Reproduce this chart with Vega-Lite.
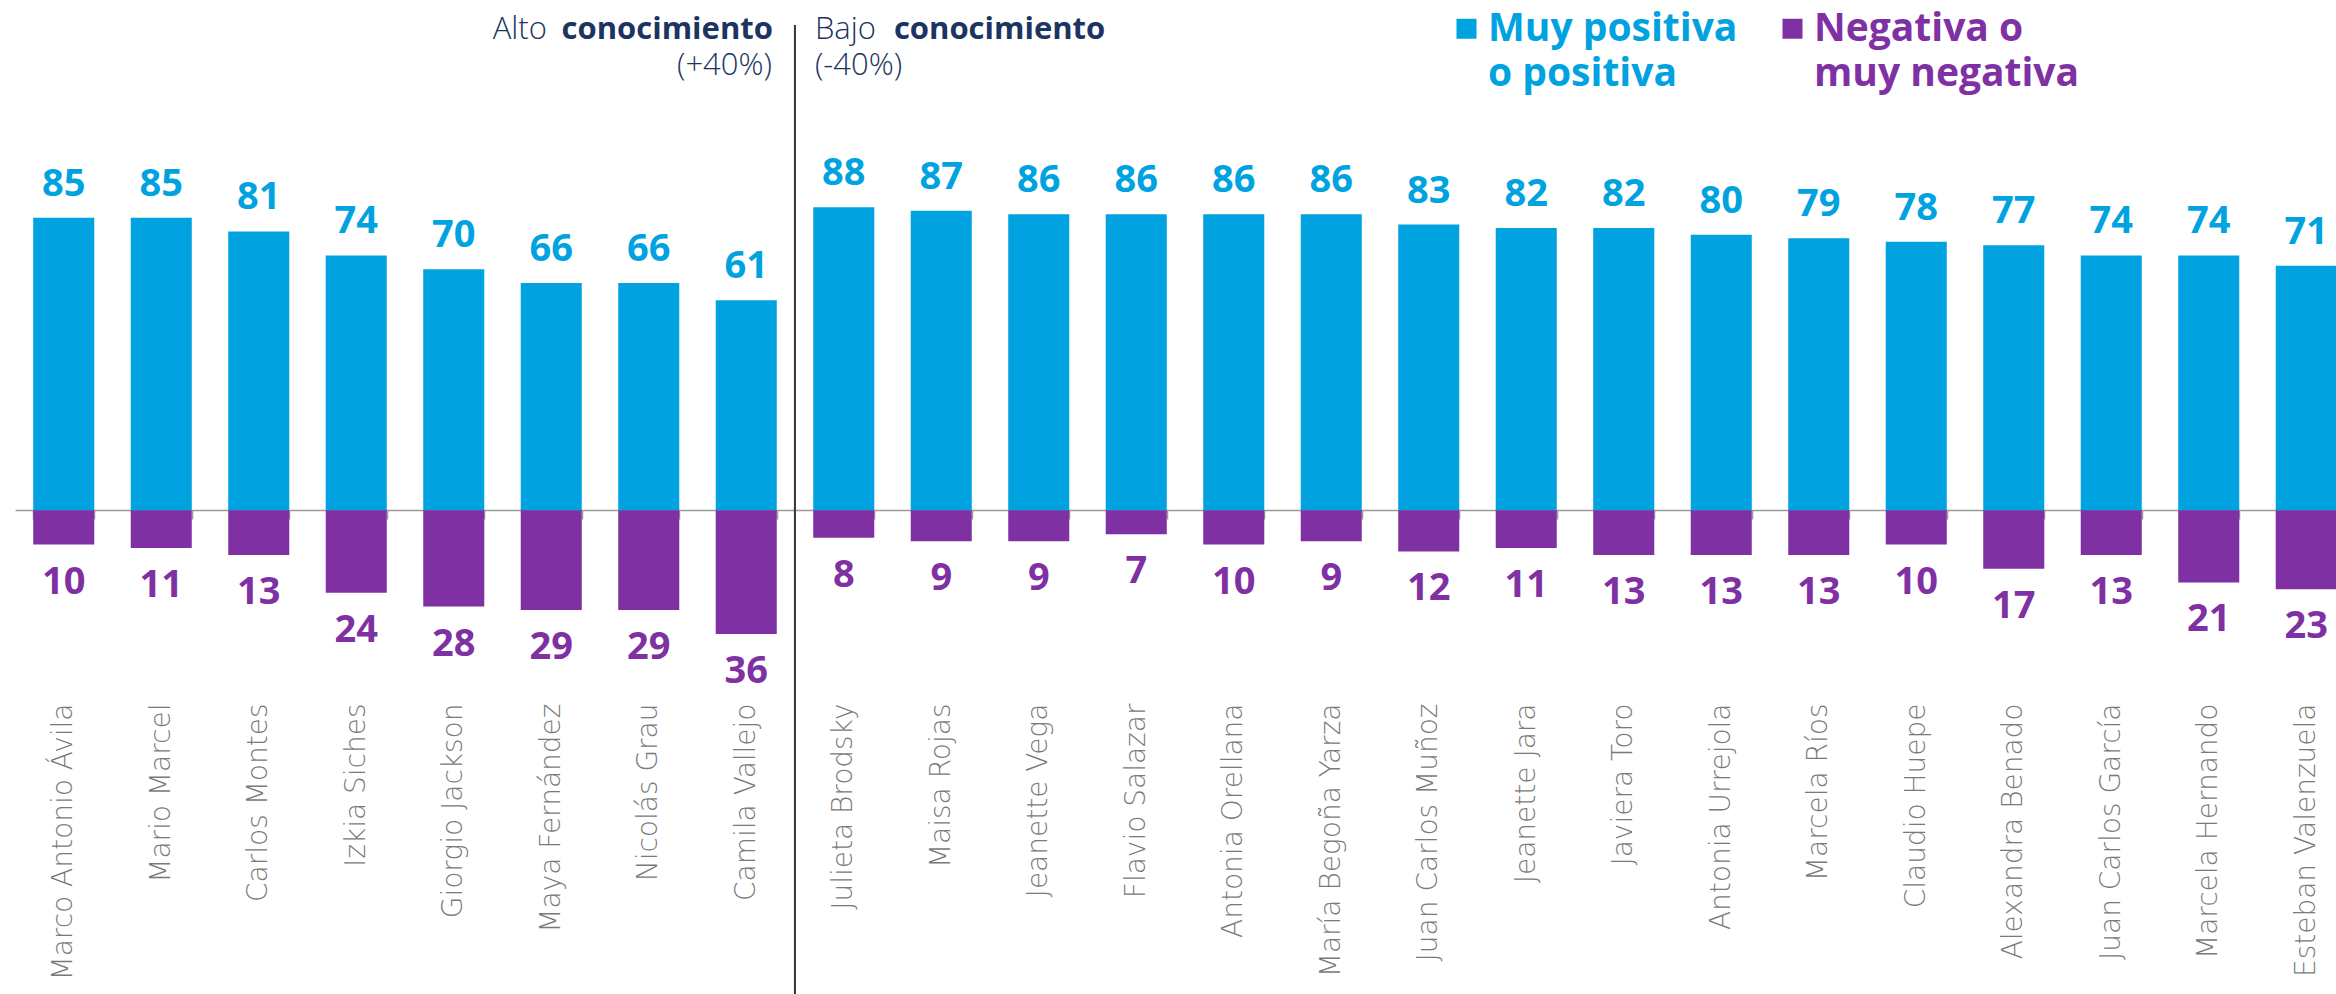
{
  "$schema": "https://vega.github.io/schema/vega-lite/v6.json",
  "autosize": {"type": "none"},
  "padding": {"left": 15, "top": 166, "right": 0, "bottom": 2},
  "width": 2321,
  "height": 826,
  "background": "white",
  "config": {"view": {"stroke": null}},
  "data": {
    "values": [
      {"name": "Marco Antonio Ávila", "group": "Alto", "pos": 85, "neg": 10},
      {"name": "Mario Marcel", "group": "Alto", "pos": 85, "neg": 11},
      {"name": "Carlos Montes", "group": "Alto", "pos": 81, "neg": 13},
      {"name": "Izkia Siches", "group": "Alto", "pos": 74, "neg": 24},
      {"name": "Giorgio Jackson", "group": "Alto", "pos": 70, "neg": 28},
      {"name": "Maya Fernández", "group": "Alto", "pos": 66, "neg": 29},
      {"name": "Nicolás Grau", "group": "Alto", "pos": 66, "neg": 29},
      {"name": "Camila Vallejo", "group": "Alto", "pos": 61, "neg": 36},
      {"name": "Julieta Brodsky", "group": "Bajo", "pos": 88, "neg": 8},
      {"name": "Maisa Rojas", "group": "Bajo", "pos": 87, "neg": 9},
      {"name": "Jeanette Vega", "group": "Bajo", "pos": 86, "neg": 9},
      {"name": "Flavio Salazar", "group": "Bajo", "pos": 86, "neg": 7},
      {"name": "Antonia Orellana", "group": "Bajo", "pos": 86, "neg": 10},
      {"name": "María Begoña Yarza", "group": "Bajo", "pos": 86, "neg": 9},
      {"name": "Juan Carlos Muñoz", "group": "Bajo", "pos": 83, "neg": 12},
      {"name": "Jeanette Jara", "group": "Bajo", "pos": 82, "neg": 11},
      {"name": "Javiera Toro", "group": "Bajo", "pos": 82, "neg": 13},
      {"name": "Antonia Urrejola", "group": "Bajo", "pos": 80, "neg": 13},
      {"name": "Marcela Ríos", "group": "Bajo", "pos": 79, "neg": 13},
      {"name": "Claudio Huepe", "group": "Bajo", "pos": 78, "neg": 10},
      {"name": "Alexandra Benado", "group": "Bajo", "pos": 77, "neg": 17},
      {"name": "Juan Carlos García", "group": "Bajo", "pos": 74, "neg": 13},
      {"name": "Marcela Hernando", "group": "Bajo", "pos": 74, "neg": 21},
      {"name": "Esteban Valenzuela", "group": "Bajo", "pos": 71, "neg": 23}
    ]
  },
  "resolve": {"scale": {"y": "independent"}},
  "layer": [
    {
      "layer": [
        {
          "mark": {"type": "bar"},
          "encoding": {
            "x": {
              "field": "name", "type": "nominal", "sort": null,
              "scale": {"type": "band", "range": [0, 2340], "paddingInner": 0.374, "paddingOuter": 0.187},
              "axis": {
                "title": null, "orient": "bottom", "offset": -482, "tickBand": "extent",
                "tickSize": 9, "tickColor": "#9a9a9a", "tickWidth": 1.5,
                "domainColor": "#9a9a9a", "domainWidth": 1.5,
                "labelAngle": -90, "labelAlign": "right", "labelBaseline": "middle",
                "labelPadding": 184, "labelFont": "DejaVu Sans", "labelFontSize": 28,
                "labelFontWeight": 200, "labelColor": "#7a7a7a", "labelLimit": 500,
                "labelOverlap": false, "grid": false
              }
            },
            "y": {"field": "pos", "type": "quantitative", "scale": {"domain": [-140, 100], "nice": false}, "axis": null},
            "color": {
              "datum": "Muy positiva o positiva",
              "scale": {"domain": ["Muy positiva o positiva", "Negativa o muy negativa"], "range": ["#00a3e0", "#7f31a4"]},
              "legend": {
                "orient": "none", "legendX": 1432, "legendY": -157, "direction": "horizontal",
                "title": null, "symbolType": "square", "symbolSize": 400, "symbolStrokeWidth": 0,
                "symbolOpacity": 1, "labelFont": "Open Sans", "labelFontSize": 39, "labelFontWeight": "bold",
                "labelOffset": 2, "columnPadding": 35, "padding": 0, "labelLimit": 500,
                "labelExpr": "datum.label == 'Muy positiva o positiva' ? ['Muy positiva', 'o positiva'] : ['Negativa o', 'muy negativa']",
                "encode": {"labels": {"update": {"fill": {"scale": "color", "field": "value"}, "lineHeight": {"value": 45}}}}
              }
            }
          }
        },
        {
          "mark": {"type": "text", "font": "Open Sans", "fontSize": 38, "fontWeight": "bold", "color": "#00a3e0", "baseline": "alphabetic", "align": "center", "dy": -22},
          "encoding": {
            "x": {"field": "name", "type": "nominal", "sort": null},
            "y": {"field": "pos", "type": "quantitative"},
            "text": {"field": "pos", "type": "quantitative"}
          }
        },
        {
          "data": {"values": [{"edge": "Julieta Brodsky"}]},
          "mark": {"type": "rule", "color": "#333333", "strokeWidth": 2},
          "encoding": {
            "x": {"field": "edge", "type": "nominal", "sort": null, "bandPosition": -0.3},
            "y": {"datum": 141},
            "y2": {"datum": -141}
          }
        },
        {
          "data": {"values": [
            {"edge": "Julieta Brodsky", "text": "conocimiento", "line": 137}
          ]},
          "mark": {"type": "text", "font": "Open Sans", "fontSize": 31, "fontWeight": "bold", "color": "#1d3461", "baseline": "alphabetic", "align": "right", "dx": -22},
          "encoding": {"x": {"field": "edge", "type": "nominal", "sort": null, "bandPosition": -0.3}, "y": {"field": "line", "type": "quantitative"}, "text": {"field": "text"}}
        },
        {
          "data": {"values": [
            {"edge": "Julieta Brodsky", "text": "Alto", "line": 137}
          ]},
          "mark": {"type": "text", "font": "Open Sans", "fontSize": 31, "fontWeight": 300, "color": "#1d3461", "baseline": "alphabetic", "align": "right", "dx": -248},
          "encoding": {"x": {"field": "edge", "type": "nominal", "sort": null, "bandPosition": -0.3}, "y": {"field": "line", "type": "quantitative"}, "text": {"field": "text"}}
        },
        {
          "data": {"values": [
            {"edge": "Julieta Brodsky", "text": "(+40%)", "line": 126.4}
          ]},
          "mark": {"type": "text", "font": "Open Sans", "fontSize": 31, "fontWeight": 300, "color": "#1d3461", "baseline": "alphabetic", "align": "right", "dx": -23},
          "encoding": {"x": {"field": "edge", "type": "nominal", "sort": null, "bandPosition": -0.3}, "y": {"field": "line", "type": "quantitative"}, "text": {"field": "text"}}
        },
        {
          "data": {"values": [
            {"edge": "Julieta Brodsky", "text": "Bajo", "line": 137},
            {"edge": "Julieta Brodsky", "text": "(-40%)", "line": 126.4}
          ]},
          "mark": {"type": "text", "font": "Open Sans", "fontSize": 31, "fontWeight": 300, "color": "#1d3461", "baseline": "alphabetic", "align": "left", "dx": 20},
          "encoding": {"x": {"field": "edge", "type": "nominal", "sort": null, "bandPosition": -0.3}, "y": {"field": "line", "type": "quantitative"}, "text": {"field": "text"}}
        },
        {
          "data": {"values": [
            {"edge": "Julieta Brodsky", "text": "conocimiento", "line": 137}
          ]},
          "mark": {"type": "text", "font": "Open Sans", "fontSize": 31, "fontWeight": "bold", "color": "#1d3461", "baseline": "alphabetic", "align": "left", "dx": 99},
          "encoding": {"x": {"field": "edge", "type": "nominal", "sort": null, "bandPosition": -0.3}, "y": {"field": "line", "type": "quantitative"}, "text": {"field": "text"}}
        }
      ]
    },
    {
      "layer": [
        {
          "mark": {"type": "bar"},
          "encoding": {
            "x": {"field": "name", "type": "nominal", "sort": null},
            "y": {"field": "neg", "type": "quantitative", "scale": {"domain": [-100, 140], "nice": false, "reverse": true}, "axis": null},
            "color": {"datum": "Negativa o muy negativa"}
          }
        },
        {
          "mark": {"type": "text", "font": "Open Sans", "fontSize": 38, "fontWeight": "bold", "color": "#7f31a4", "baseline": "alphabetic", "align": "center", "dy": 49},
          "encoding": {
            "x": {"field": "name", "type": "nominal", "sort": null},
            "y": {"field": "neg", "type": "quantitative"},
            "text": {"field": "neg", "type": "quantitative"}
          }
        }
      ]
    }
  ]
}
